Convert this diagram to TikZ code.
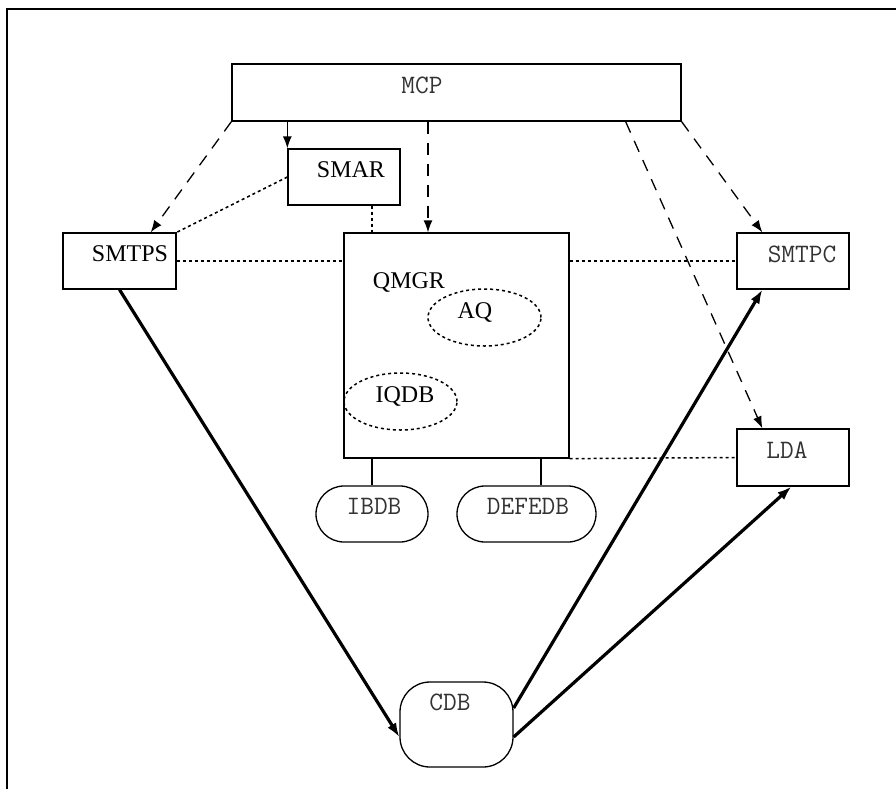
\documentclass[tikz,border=0pt]{standalone}
\usepackage{fontspec}
\setmainfont{Liberation Serif}
\usetikzlibrary{arrows.meta,shapes.geometric}

\tikzset{
    proc/.style={draw, line width=0.65pt, rectangle, inner sep=0pt},
    store/.style={draw, line width=0.65pt, rectangle, rounded corners=14pt, inner sep=0pt},
    queue/.style={draw, line width=0.75pt, ellipse, dash pattern=on 1.5pt off 1.5pt, inner sep=0pt,
        minimum width=56.5pt, minimum height=28.5pt},
    rmname/.style={anchor=base, inner sep=0pt, font=\fontsize{12}{14}\selectfont},
    ttname/.style={anchor=base, inner sep=0pt, text=black!80, font=\fontsize{13.3}{15}\selectfont\ttfamily},
    ctrl/.style={line width=0.65pt, dash pattern=on 6pt off 4.5pt, -{Latex[length=6pt,width=4.5pt]}},
    link/.style={line width=0.75pt, dash pattern=on 1.5pt off 1.5pt},
    flow/.style={line width=1.6pt, -{Latex[length=7pt,width=5pt]}},
}

\begin{document}
\begin{tikzpicture}[x=0.5pt, y=-0.5pt]
        \useasboundingbox (0,0) rectangle (896,789);
        \draw[line width=0.65pt] (7,789) -- (7,9) -- (896,9);

        % processes
        \node[proc, minimum width=224.5pt, minimum height=28.5pt] (mcp) at (456.5,92.5) {};
        \node[proc, minimum width=56pt, minimum height=28pt] (smar) at (344,177) {};
        \node[proc, minimum width=56.5pt, minimum height=28pt] (smtps) at (119.5,261) {};
        \node[proc, minimum width=112.5pt, minimum height=112.5pt] (qmgr) at (456.5,345.5) {};
        \node[proc, minimum width=56pt, minimum height=28pt] (smtpc) at (793,261) {};
        \node[proc, minimum width=56pt, minimum height=28.5pt] (lda) at (793,457.5) {};
        \node[queue] (aq) at (484.5,317.5) {};
        \node[queue] (iqdb) at (400.5,401.5) {};

        % databases
        \node[store, minimum width=56pt, minimum height=28pt] (ibdb) at (372,514) {};
        \node[store, minimum width=69.5pt, minimum height=28pt] (defedb) at (526.5,514) {};
        \node[store, rounded corners=15pt, minimum width=56.5pt, minimum height=42.5pt] (cdb) at (456.5,724.5) {};

        % names
        \node[ttname] (mcp-t) at (422,93) {MCP};
        \node[rmname] (smar-t) at (351,177) {SMAR};
        \node[rmname] (smtps-t) at (130,261) {SMTPS};
        \node[rmname] (qmgr-t) at (409,288) {QMGR};
        \node[rmname] (aq-t) at (475,318) {AQ};
        \node[rmname] (iqdb-t) at (405,402) {IQDB};
        \node[ttname] (ibdb-t) at (374,514) {IBDB};
        \node[ttname] (defedb-t) at (528,514) {DEFEDB};
        \node[ttname] (smtpc-t) at (802,262) {SMTPC};
        \node[ttname] (lda-t) at (787,458) {LDA};
        \node[ttname] (cdb-t) at (450,710) {CDB};

        % control from MCP
        \draw[line width=0.65pt, -{Latex[length=6pt,width=4.5pt]}] (smar.north west |- mcp.south) -- (smar.north west);
        \draw[ctrl] (mcp.south west) -- ([xshift=-13pt]smtps.north east);
        \draw[ctrl] ([xshift=-14.25pt]qmgr.north |- mcp.south) -- ([xshift=-14.25pt]qmgr.north);
        \draw[ctrl] ([xshift=-28pt]mcp.south east) -- ([xshift=13pt]lda.north west);
        \draw[ctrl] (mcp.south east) -- ([xshift=13pt]smtpc.north west);

        % dotted links
        \draw[link] (smar.west) -- (smtps.north east);
        \draw[link] ([xshift=14pt]smar.south) -- ([xshift=14pt]smar.south |- qmgr.north);
        \draw[link] (smtps.east) -- (smtps.east -| qmgr.west);
        \draw[link] (smtpc.west -| qmgr.east) -- (smtpc.west);
        \draw[link] (qmgr.south east) -- (lda.west);

        \draw[line width=0.65pt] (ibdb.north |- qmgr.south) -- (ibdb.north);
        \draw[line width=0.65pt] ([xshift=7.25pt]defedb.north |- qmgr.south) -- ([xshift=7.25pt]defedb.north);

        % mail flow
        \draw[flow] (smtps.south) -- ([yshift=-6.25pt]cdb.west);
        \draw[flow] ([yshift=8.25pt]cdb.east) -- ([xshift=13pt]smtpc.south west);
        \draw[flow] ([yshift=-6.25pt]cdb.east) -- ([xshift=27.5pt]lda.south west);
    \end{tikzpicture}
\end{document}
